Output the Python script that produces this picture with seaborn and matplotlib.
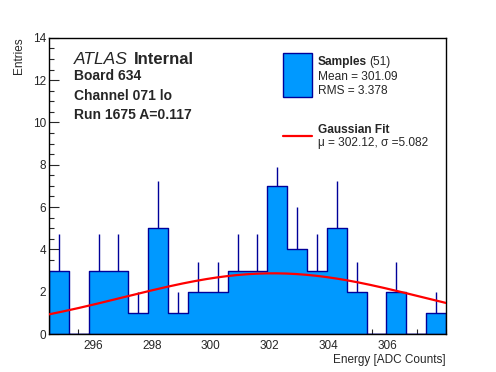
import numpy as np
import pandas as pd
import seaborn as sns
import matplotlib.pyplot as plt

# histogram contents (20 bins)
x_min = 294.5
x_max = 308.0
counts = [3, 0, 3, 3, 1, 5, 1, 2, 2, 3, 3, 7, 4, 3, 5, 2, 0, 2, 0, 1]
# upper error bar lengths as drawn
errors = [1.73, 0, 1.73, 1.73, 1.0, 2.24, 1.0, 1.41, 1.41, 1.73,
          1.73, 0.9, 2.0, 1.73, 2.24, 1.41, 0, 1.41, 0, 1.0]

# gaussian fit parameters
fit_mu = 302.12
fit_sigma = 5.082
fit_amp = 2.87

n_entries = 51
mean_val = 301.09
rms_val = 3.378

sns.set_style("ticks")
plt.rcParams['font.family'] = ['Liberation Sans', 'DejaVu Sans']

edges = np.linspace(x_min, x_max, len(counts) + 1)
centers = 0.5 * (edges[:-1] + edges[1:])
df = pd.DataFrame({'energy': centers, 'n': counts, 'err': errors})

fig = plt.figure(figsize=(4.96, 3.72), dpi=100)
ax = fig.add_axes([0.0988, 0.102, 0.8004, 0.7965])

fill = '#0099ff'
edge = '#000099'

sns.histplot(data=df, x='energy', weights='n', bins=list(edges), ax=ax,
             element='step', fill=True, color=fill, alpha=1.0,
             edgecolor=edge, linewidth=1.0, zorder=2)

# upper error bars
mask = df['err'] > 0
ax.vlines(df['energy'][mask], df['n'][mask], (df['n'] + df['err'])[mask],
          color=edge, linewidth=1.0, zorder=3)

# fit curve
xf = np.linspace(x_min, x_max, 200)
fit_df = pd.DataFrame({'x': xf,
                       'y': fit_amp * np.exp(-0.5 * ((xf - fit_mu) / fit_sigma) ** 2)})
sns.lineplot(data=fit_df, x='x', y='y', ax=ax, color='red', linewidth=1.6, zorder=4)

ax.set_xlim(x_min, x_max)
ax.set_ylim(0, 14)
ax.set_xticks([296, 298, 300, 302, 304, 306])
ax.set_xticks(np.arange(295.0, 308.01, 0.5), minor=True)
ax.set_yticks(np.arange(0, 15, 2))
ax.set_yticks(np.arange(0, 14.01, 0.5), minor=True)
ax.tick_params(which='both', direction='in', top=False, right=False, labelsize=8.5)
ax.tick_params(which='major', length=7, width=0.8)
ax.tick_params(which='minor', length=3.5, width=0.8)
ax.tick_params(axis='y', pad=2)
ax.tick_params(axis='x', pad=4)
for s in ax.spines.values():
    s.set_visible(True)
    s.set_linewidth(1.0)
    s.set_color('black')

ax.set_xlabel('Energy [ADC Counts]', loc='right', fontsize=8.5, labelpad=2)
ax.set_ylabel('Entries', loc='top', fontsize=8.5, labelpad=6)

# labels top left
ax.text(0.063, 0.9106, 'ATLAS', transform=ax.transAxes, fontsize=12.5,
        style='italic', va='baseline')
ax.text(0.214, 0.9106, 'Internal', transform=ax.transAxes, fontsize=12,
        fontweight='bold', va='baseline')
ax.text(0.063, 0.857, 'Board 634', transform=ax.transAxes, fontsize=10,
        fontweight='bold', va='baseline')
ax.text(0.063, 0.790, 'Channel 071 lo', transform=ax.transAxes, fontsize=10,
        fontweight='bold', va='baseline')
ax.text(0.063, 0.726, 'Run 1675 A=0.117', transform=ax.transAxes, fontsize=10,
        fontweight='bold', va='baseline')

# legend drawn by hand in axes coords
ax.add_patch(plt.Rectangle((0.590, 0.801), 0.0715, 0.146, transform=ax.transAxes,
                           facecolor=fill, edgecolor=edge, linewidth=1.0, zorder=5))
ax.text(0.677, 0.908, 'Samples', transform=ax.transAxes, fontsize=8.6,
        fontweight='bold', va='baseline')
ax.text(0.807, 0.908, '(%d)' % n_entries, transform=ax.transAxes, fontsize=8.6,
        va='baseline')
ax.text(0.677, 0.857, 'Mean = %.2f' % mean_val, transform=ax.transAxes,
        fontsize=8.6, va='baseline')
ax.text(0.677, 0.810, 'RMS = %.3f' % rms_val, transform=ax.transAxes,
        fontsize=8.6, va='baseline')
ax.plot([0.590, 0.6615], [0.668, 0.668], transform=ax.transAxes, color='red',
        linewidth=1.6, zorder=5)
ax.text(0.677, 0.679, 'Gaussian Fit', transform=ax.transAxes, fontsize=8.6,
        fontweight='bold', va='baseline')
ax.text(0.677, 0.634, 'μ = %.2f, σ =%.3f' % (fit_mu, fit_sigma),
        transform=ax.transAxes, fontsize=8.6, va='baseline')

fig.savefig('out.png', dpi=100)
